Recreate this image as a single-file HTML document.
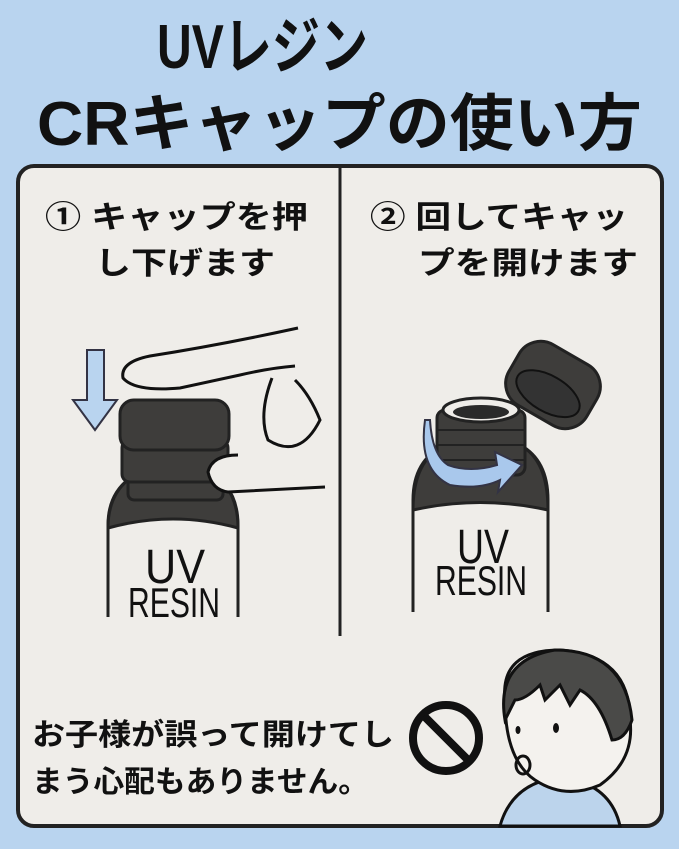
<!DOCTYPE html>
<html><head><meta charset="utf-8"><style>
html,body{margin:0;padding:0;background:#b9d4ef;}
svg{display:block}
text{font-family:"Liberation Sans","Noto Sans CJK JP",sans-serif;font-weight:bold;fill:#111;}
.c{font-family:"Liberation Sans Narrow","Liberation Sans","DejaVu Sans Condensed",sans-serif;font-weight:normal;}
</style></head><body>
<svg width="679" height="849" viewBox="0 0 679 849" xmlns="http://www.w3.org/2000/svg">
<rect width="679" height="849" fill="#b9d4ef"/>
<text x="157" y="68" font-size="62" textLength="211" lengthAdjust="spacingAndGlyphs">UVレジン</text>
<text x="37" y="145" font-size="62" textLength="605" lengthAdjust="spacingAndGlyphs">CRキャップの使い方</text>
<rect x="18" y="166" width="644" height="660" rx="16" fill="#efede9" stroke="#222" stroke-width="4"/>
<line x1="340" y1="167" x2="340" y2="636" stroke="#222" stroke-width="3"/>
<text x="45" y="228" font-size="31" textLength="263" lengthAdjust="spacingAndGlyphs">① キャップを押</text>
<text x="95" y="274" font-size="31" textLength="180" lengthAdjust="spacingAndGlyphs">し下げます</text>
<text x="370" y="228" font-size="31" textLength="258" lengthAdjust="spacingAndGlyphs">② 回してキャッ</text>
<text x="418" y="274" font-size="31" textLength="220" lengthAdjust="spacingAndGlyphs">プを開けます</text>
<!-- bottle 1 -->
<path d="M108 617 V525 Q108 485 145 470 H205 Q238 485 238 525 V617" fill="#efede9" stroke="#222" stroke-width="3"/>
<path d="M108 528 Q108 485 145 470 H205 Q238 485 238 528 Q173 510 108 528Z" fill="#3e3d3b" stroke="#222" stroke-width="3"/>
<rect x="128" y="470" width="95" height="30" rx="6" fill="#3e3d3b" stroke="#222" stroke-width="3"/>
<rect x="122" y="440" width="106" height="42" rx="8" fill="#3e3d3b" stroke="#222" stroke-width="3"/>
<rect x="120" y="400" width="109" height="50" rx="14" fill="#3e3d3b" stroke="#222" stroke-width="3"/>
<text class="c" x="145" y="583" font-size="48" textLength="60" lengthAdjust="spacingAndGlyphs">UV</text>
<text class="c" x="128" y="617" font-size="42" textLength="92" lengthAdjust="spacingAndGlyphs">RESIN</text>
<!-- arrow down -->
<path d="M87 350 H104 V400 H117 L95 430 L73 400 H87Z" fill="#b9d4ef" stroke="#334" stroke-width="2"/>
<!-- hand -->
<path d="M298 328 Q220 345 150 356 Q120 362 123 378 Q135 392 180 388 L240 375 Q270 368 295 366" fill="#efede9" stroke="#111" stroke-width="3"/>
<path d="M272 378 Q258 415 268 440 Q300 460 320 420 Q310 395 295 380" fill="#efede9" stroke="#111" stroke-width="3"/>
<path d="M238 455 Q212 455 208 472 Q212 490 228 492 L325 487" fill="#efede9" stroke="#111" stroke-width="3"/>
<!-- bottle 2 -->
<path d="M413 612 V500 Q413 460 445 445 H520 Q548 460 548 500 V612" fill="#efede9" stroke="#222" stroke-width="3"/>
<path d="M413 510 Q413 460 445 445 H520 Q548 460 548 510 Q480 495 413 510Z" fill="#3e3d3b" stroke="#222" stroke-width="3"/>
<rect x="437" y="410" width="88" height="65" rx="8" fill="#3e3d3b" stroke="#222" stroke-width="3"/>
<path d="M437 430 H525 M437 445 H525 M437 460 H525" stroke="#222" stroke-width="2"/>
<ellipse cx="481" cy="410" rx="38" ry="12" fill="#efede9" stroke="#222" stroke-width="3"/>
<ellipse cx="481" cy="412" rx="28" ry="7" fill="#2a2a2a"/>
<path d="M425 420 Q418 470 450 485 Q480 490 500 480 L498 492 L522 465 L495 452 L497 465 Q470 473 448 465 Q432 455 430 420Z" fill="#a9c8ec" stroke="#334" stroke-width="2"/>
<g transform="rotate(30 553 385)">
<rect x="508" y="350" width="90" height="70" rx="25" fill="#3e3d3b" stroke="#222" stroke-width="3"/>
<ellipse cx="553" cy="395" rx="35" ry="18" fill="#333" stroke="#111" stroke-width="2"/>
</g>
<text class="c" x="457" y="563" font-size="48" textLength="52" lengthAdjust="spacingAndGlyphs">UV</text>
<text class="c" x="435" y="595" font-size="42" textLength="92" lengthAdjust="spacingAndGlyphs">RESIN</text>
<!-- bottom -->
<text x="32" y="745" font-size="30" textLength="362" lengthAdjust="spacingAndGlyphs">お子様が誤って開けてし</text>
<text x="32" y="792" font-size="30" textLength="337" lengthAdjust="spacingAndGlyphs">まう心配もありません。</text>
<circle cx="446" cy="738" r="33" fill="none" stroke="#111" stroke-width="8"/>
<line x1="424" y1="716" x2="468" y2="760" stroke="#111" stroke-width="8"/>
<!-- child -->
<path d="M500 826 Q510 790 545 780 H575 Q612 790 620 826Z" fill="#bcd4ec" stroke="#111" stroke-width="3"/>
<path d="M505 700 Q500 650 560 650 Q630 655 630 720 Q635 760 600 785 Q565 800 535 780 Q505 760 505 700Z" fill="#f4f2ee" stroke="#111" stroke-width="3"/>
<path d="M505 720 Q495 660 555 650 Q625 650 632 720 Q625 740 612 740 Q600 700 580 690 L570 705 L560 685 L545 700 L540 685 Q525 700 515 700 Z" fill="#4a4a48" stroke="#111" stroke-width="3"/>
<ellipse cx="523" cy="765" rx="7" ry="9" fill="none" stroke="#111" stroke-width="3"/>
<ellipse cx="518" cy="730" rx="2.5" ry="4" fill="#111"/>
<ellipse cx="556" cy="728" rx="3" ry="5" fill="#111"/>
</svg>
</body></html>
